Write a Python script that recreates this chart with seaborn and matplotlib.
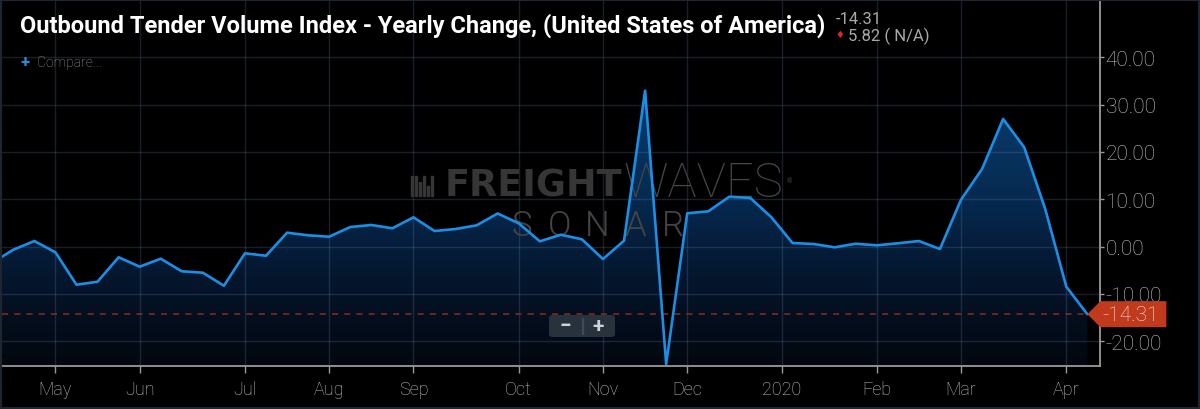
import numpy as np
import matplotlib
matplotlib.use("Agg")
import matplotlib.pyplot as plt
import seaborn as sns
from matplotlib.colors import LinearSegmentedColormap
from matplotlib.patches import Polygon, FancyBboxPatch, Rectangle
from matplotlib.transforms import IdentityTransform

# ---------------- data ----------------
title = "Outbound Tender Volume Index - Yearly Change, (United States of America)"
last_value = -14.31
change_text = "5.82 ( N/A)"
compare_text = "Compare..."
week_index = list(range(-1, 52))
values = [-3.45, -0.68, 1.16, -1.23, -8.08, -7.44, -2.28, -4.27, -2.58, -5.24,
          -5.54, -8.29, -1.44, -1.95, 2.92, 2.37, 2.07, 4.12, 4.55, 3.85,
          6.17, 3.28, 3.70, 4.48, 6.98, 4.90, 1.10, 2.49, 1.52, -2.64,
          1.23, 32.94, -24.84, 7.02, 7.44, 10.53, 10.25, 6.17, 0.74, 0.53,
          -0.17, 0.59, 0.25, 0.68, 1.16, -0.53, 9.89, 16.38, 26.96, 20.97,
          7.93, -8.49, -14.31]
month_labels = ["May", "Jun", "Jul", "Aug", "Sep", "Oct", "Nov", "Dec",
                "2020", "Feb", "Mar", "Apr"]
month_pos = [2, 6, 11, 15, 19, 24, 28, 32, 36.5, 41, 45, 50]
y_ticks = [-20, -10, 0, 10, 20, 30, 40]

# ---------------- style ----------------
sns.set_theme(style="dark")
plt.rcParams["font.family"] = ["Roboto", "DejaVu Sans"]
plt.rcParams["axes.facecolor"] = "black"
plt.rcParams["figure.facecolor"] = "black"

W, H = 1200, 410
fig = plt.figure(figsize=(W / 100, H / 100), dpi=100, facecolor="black")
ax = fig.add_axes([2 / W, 43 / H, 1098 / W, 365 / H])
ax.set_facecolor("black")

xmin, xmax = -0.537, 51.6
ymin, ymax = -25.26, 51.9
ax.set_xlim(xmin, xmax)
ax.set_ylim(ymin, ymax)

# gradient area fill
fb = ax.fill_between(week_index, values, ymin, facecolor="none", edgecolor="none")
cmap = LinearSegmentedColormap.from_list(
    "g", [(0.0, "#03070e"), (0.146, "#040f20"), (0.327, "#051d3a"),
          (0.457, "#062a50"), (0.677, "#083866"), (1.0, "#0c4a86")])
grad = np.linspace(1, 0, 256).reshape(-1, 1)
im = ax.imshow(grad, extent=[xmin, xmax, ymin, ymax], aspect="auto", cmap=cmap,
               zorder=1, interpolation="bilinear")
im.set_clip_path(fb.get_paths()[0], transform=ax.transData)

# grid (drawn over the fill, translucent)
ax.set_xticks(month_pos)
ax.set_xticklabels(month_labels)
ax.set_yticks(y_ticks)
ax.set_yticklabels([f"{v:.2f}" for v in y_ticks])
ax.set_axisbelow(False)
ax.grid(True, color="#7a9ccc", alpha=0.2, linewidth=1.0)

# dashed last-value line
ax.hlines(last_value, xmin, week_index[-1], colors="#8a2e1c", linestyles=(0, (4, 4)),
          linewidth=1.1, zorder=3)

# main line
sns.lineplot(x=week_index, y=values, ax=ax, color="#1a8fe6", linewidth=1.9,
             zorder=5, legend=False)

# spines & ticks
for s in ["top", "left"]:
    ax.spines[s].set_visible(False)
for s in ["bottom", "right"]:
    ax.spines[s].set_visible(True)
    ax.spines[s].set_color("#9a9a9a")
    ax.spines[s].set_linewidth(1.3)
    ax.spines[s].set_zorder(6)
ax.yaxis.tick_right()
ax.tick_params(axis="y", colors="#9a9a9a", labelcolor="#c2c2c2", labelsize=15,
               length=3, width=1, pad=1, direction="out", right=True, left=False)
ax.tick_params(axis="x", colors="#9a9a9a", labelcolor="#c2c2c2", labelsize=13,
               length=5, width=1, pad=5, direction="out", bottom=True)
for lab in ax.get_yticklabels() + ax.get_xticklabels():
    lab.set_fontweight("light")
ax.set_xlabel("")
ax.set_ylabel("")

ID = IdentityTransform()

def py(y_top):
    return H - y_top

# ---------------- watermark (between fill and line) ----------------
wm_col = "#363636"
t_fr = ax.text(445, py(197), "FREIGHT", transform=ID, fontsize=20, fontweight="heavy",
               family=["DejaVu Sans"], color=wm_col, zorder=4, va="baseline", ha="left")
t_wv = ax.text(624, py(197), "WAVES", transform=ID, fontsize=20, fontweight=100,
               family=["Roboto", "DejaVu Sans"], color="#464646", zorder=4,
               va="baseline", ha="left")
ax.text(787, py(183), "®", transform=ID, fontsize=5, color="#444444", zorder=4)
for k, ch in enumerate("SONAR"):
    ax.text(522 + 37.7 * k, py(236), ch, transform=ID, fontsize=25, fontweight=300,
            family=["Roboto", "DejaVu Sans"], color="#444444", zorder=4,
            va="baseline", ha="center")
for k, (xb, hb) in enumerate(zip([411, 415, 419, 423, 427, 431],
                                   [20, 20, 14, 20, 10, 20])):
    ax.add_artist(Rectangle((xb, py(197)), 2, hb, transform=ID, color=wm_col,
                            zorder=4, clip_on=False))

# ---------------- last value tag ----------------
px, pyy = ax.transData.transform((week_index[-1], values[-1]))
tag = Polygon([(px, pyy), (px + 13, pyy + 13), (px + 79, pyy + 13),
               (px + 79, pyy - 13), (px + 13, pyy - 13)], closed=True,
              transform=ID, facecolor="#c23a1c", edgecolor="none", zorder=7,
              clip_on=False)
ax.add_artist(tag)
ax.text(px + 15, pyy, f"{last_value:.2f}", transform=ID, fontsize=15,
        fontweight="light", color="#f3e6e2", va="center", ha="left", zorder=8)

# ---------------- zoom widget ----------------
ax.add_artist(FancyBboxPatch((549, py(338)), 66, 22, boxstyle="round,pad=0,rounding_size=3",
                             transform=ID, facecolor="#28323d", edgecolor="none",
                             zorder=6, clip_on=False))
ax.add_artist(Rectangle((582, py(335)), 1, 16, transform=ID, color="#3d4a58",
                        zorder=7, clip_on=False))
ax.text(565, py(327), "−", transform=ID, fontsize=15, fontweight="bold",
        color="#cfd3d8", ha="center", va="center", zorder=7)
ax.text(598, py(327), "+", transform=ID, fontsize=15, fontweight="bold",
        color="#cfd3d8", ha="center", va="center", zorder=7)

# ---------------- header texts ----------------
t_title = fig.text(20 / W, (H - 33) / H, title, fontsize=18, fontweight="bold",
                   family=["Liberation Sans Narrow", "Roboto", "DejaVu Sans"],
                   color="white", ha="left", va="baseline")
fig.text(836 / W, (H - 24) / H, f"{last_value:.2f}", fontsize=12, color="#a9a9a9",
         ha="left", va="baseline")
fig.text(840 / W, (H - 35) / H, "♦", fontsize=7, color="#e8202a", family=["DejaVu Sans"],
         ha="center", va="center")
fig.text(848 / W, (H - 41) / H, change_text, fontsize=12, color="#a9a9a9",
         ha="left", va="baseline")
fig.text(25 / W, (H - 62) / H, "+", fontsize=12, fontweight="bold", color="#2d8ee0",
         ha="center", va="center")
fig.text(37 / W, (H - 67) / H, compare_text, fontsize=10, fontweight="light",
         color="#9c9c9c", ha="left", va="baseline")

# figure border
fig.add_artist(Rectangle((0, 0), 1, 1, transform=fig.transFigure, fill=False,
                         edgecolor="#1d2631", linewidth=3))

# fit widths of title and watermark words
fig.canvas.draw()
r = fig.canvas.get_renderer()
for t, target in [(t_title, 807), (t_fr, 177), (t_wv, 160)]:
    w = t.get_window_extent(r).width
    t.set_fontsize(t.get_fontsize() * target / w)

fig.savefig("out.png", dpi=100, facecolor="black")
